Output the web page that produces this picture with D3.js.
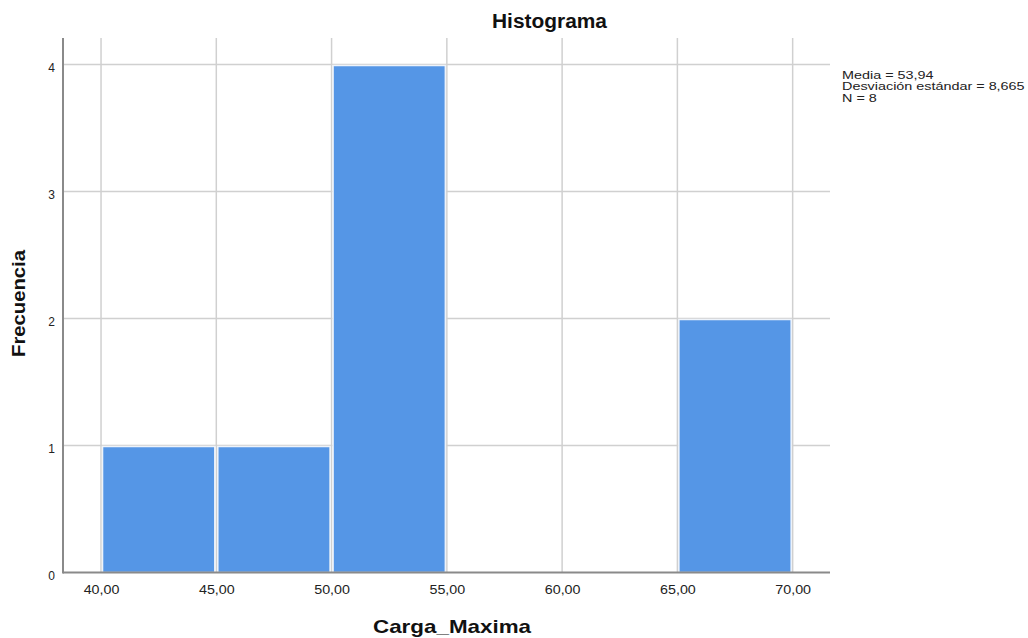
<!DOCTYPE html>
<html><head><meta charset="utf-8">
<script src="https://cdn.jsdelivr.net/npm/d3@7"></script>
<style>body{margin:0;background:#fff;}svg{display:block;font-family:Arial,"Liberation Sans",sans-serif;}</style>
</head><body>
<svg id="c" width="1028" height="638"></svg>
<script>
const binStarts = [40, 45, 50, 55, 60, 65];
const binEnds   = [45, 50, 55, 60, 65, 70];
const counts    = [1, 1, 4, 0, 0, 2];
const xTicks = [40, 45, 50, 55, 60, 65, 70];
const yTicks = [0, 1, 2, 3, 4];
const statsLines = ["Media = 53,94", "Desviación estándar = 8,665", "N = 8"];

const svg = d3.select("#c");
const L = 63, R = 830, T = 38, B = 572.5;
const x = d3.scaleLinear().domain([38.35, 71.62]).range([L, R]);
const y = d3.scaleLinear().domain([0, 4]).range([B, 64.5]);
const fmt = d => d.toFixed(2).replace(".", ",");
const FONT = "Arial,'Liberation Sans',sans-serif";

function stretch(sel, k) {
  sel.each(function() {
    const w = this.getComputedTextLength();
    d3.select(this).attr("textLength", w * k).attr("lengthAdjust", "spacingAndGlyphs");
  });
}

// grid
svg.append("g").selectAll("line").data(xTicks).join("line")
  .attr("x1", d => x(d)).attr("x2", d => x(d)).attr("y1", T).attr("y2", B)
  .attr("stroke", "#d0d0d0").attr("stroke-width", 1.5);
svg.append("g").selectAll("line").data(yTicks.slice(1)).join("line")
  .attr("x1", L).attr("x2", R).attr("y1", d => y(d)).attr("y2", d => y(d))
  .attr("stroke", "#d0d0d0").attr("stroke-width", 1.5);

// bars
const bins = binStarts.map((s, i) => ({x0: s, x1: binEnds[i], n: counts[i]})).filter(d => d.n > 0);
svg.append("g").selectAll("rect").data(bins).join("rect")
  .attr("x", d => x(d.x0) + 1.5).attr("width", d => x(d.x1) - x(d.x0) - 3)
  .attr("y", d => y(d.n) + 1).attr("height", d => y(0) - y(d.n) - 1)
  .attr("fill", "#5596e6").attr("stroke", "#eef3fa").attr("stroke-width", 1.5);

// axes
const xa = svg.append("g").attr("transform", `translate(0,${B})`)
  .call(d3.axisBottom(x).tickValues(xTicks).tickFormat(fmt).tickSize(0));
xa.select(".domain").remove();
xa.selectAll(".tick text").attr("y", 21.5).attr("dy", null);
const ya = svg.append("g").attr("transform", `translate(55,0)`)
  .call(d3.axisLeft(y).tickValues(yTicks).tickFormat(d3.format("d")).tickSize(0).tickPadding(0));
ya.select(".domain").remove();
ya.selectAll(".tick text").attr("x", 0).attr("y", 7.3).attr("dy", null);
svg.selectAll(".tick text").attr("font-size", 12).attr("fill", "#222").attr("font-family", FONT);
stretch(xa.selectAll(".tick text"), 1.19);
svg.append("line").attr("x1", L).attr("x2", L).attr("y1", T).attr("y2", B + 1).attr("stroke", "#8a8a8a").attr("stroke-width", 2);
svg.append("line").attr("x1", L).attr("x2", R).attr("y1", B).attr("y2", B).attr("stroke", "#8a8a8a").attr("stroke-width", 2);

// titles
svg.append("text").attr("x", 549.5).attr("y", 28).attr("text-anchor", "middle")
  .attr("font-size", 19.5).attr("font-weight", "bold").attr("fill", "#111")
  .attr("textLength", 115).attr("lengthAdjust", "spacingAndGlyphs").text("Histograma");
svg.append("text").attr("x", 452).attr("y", 633).attr("text-anchor", "middle")
  .attr("font-size", 18.5).attr("font-weight", "bold").attr("fill", "#111")
  .attr("textLength", 158).attr("lengthAdjust", "spacingAndGlyphs").text("Carga_Maxima");
svg.append("text").attr("transform", "translate(25,303.5) rotate(-90)").attr("text-anchor", "middle")
  .attr("font-size", 18.5).attr("font-weight", "bold").attr("fill", "#111")
  .attr("textLength", 107).attr("lengthAdjust", "spacingAndGlyphs").text("Frecuencia");

// stats
const st = svg.append("g").selectAll("text").data(statsLines).join("text")
  .attr("x", 842).attr("y", (d, i) => 78.5 + i * 11.5)
  .attr("font-size", 11.5).attr("fill", "#222").attr("font-family", FONT).text(d => d);
stretch(st, 1.25);
</script>
</body></html>
